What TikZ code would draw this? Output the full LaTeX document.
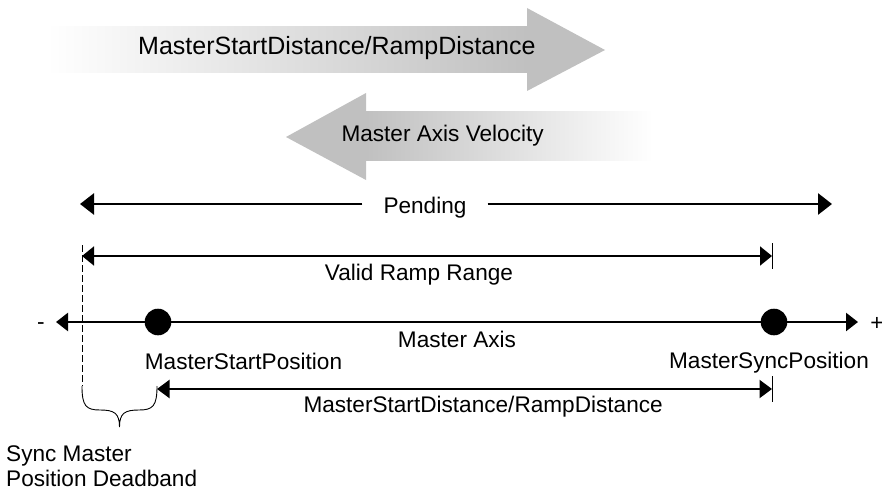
\documentclass[tikz,border=0pt]{standalone}
\usepackage{fontspec}
\setmainfont{Liberation Sans}
\usetikzlibrary{arrows.meta}
\definecolor{arrgray}{RGB}{192,192,192}
\begin{document}
\begin{tikzpicture}[x=1pt,y=-1pt,
  lbl/.style={inner sep=0pt, font=\fontsize{22.6}{25}\selectfont},
  biglbl/.style={inner sep=0pt, font=\fontsize{25}{28}\selectfont},
  pendline/.style={line width=2.8pt, -{Triangle[length=14pt,width=21pt]}},
  validline/.style={line width=1.8pt, {Triangle[length=12pt,width=19pt]}-{Triangle[length=12pt,width=19pt]}},
  axisline/.style={line width=2.5pt, {Triangle[length=12pt,width=18pt]}-{Triangle[length=12pt,width=18pt]}},
  distline/.style={line width=2.2pt, {Triangle[length=12.5pt,width=18pt]}-{Triangle[length=12.5pt,width=18pt]}},
  tickline/.style={line width=1pt},
  dashline/.style={line width=1pt, dash pattern=on 7pt off 3pt},
  dot/.style={circle, fill=black, inner sep=0pt, minimum size=26.6pt}
]
\useasboundingbox (0,0) rectangle (882,497);

% big shaded arrows
\shade[left color=white, right color=arrgray] (47,27) rectangle (527,73);
\fill[arrgray] (527,8) -- (605,50) -- (527,91) -- cycle;
\node[biglbl, anchor=base west] (topdist) at (138,55) {MasterStartDistance/RampDistance};

\fill[arrgray] (366,93) -- (286,137) -- (366,180) -- cycle;
\shade[left color=arrgray, right color=white] (366,112) rectangle (653,161);
\node[lbl, anchor=base west] (vel) at (341.3,142) {Master Axis Velocity};

% Pending
\coordinate (pendL) at (80,204);
\coordinate (pendR) at (832,204);
\node[lbl, anchor=base, inner xsep=21pt] (pend) at (425,213.3) {Pending};
\draw[pendline] (pend.west |- pendL) -- (pendL);
\draw[pendline] (pend.east |- pendR) -- (pendR);

% Valid ramp range
\coordinate (vrL) at (82,256);
\coordinate (vrR) at (772,256);
\draw[validline] (vrL) -- (vrR);
\draw[tickline] (vrR) ++(0,-13) -- ++(0,26);
\node[lbl, anchor=base] (valid) at (419,280.7) {Valid Ramp Range};

% dashed deadband line
\coordinate (dtop) at (82,245);
\coordinate (dbot) at (82,386);
\draw[dashline] (dtop) -- (dbot);

% master axis
\coordinate (axL) at (56,322);
\coordinate (axR) at (858,322);
\draw[axisline] (axL) -- (axR);
\node[dot] (mstart) at (158,322) {};
\node[dot] (msync) at (774,322) {};
\node[lbl, anchor=base] (minus) at (41,329) {-};
\node[lbl, anchor=base] (plus) at (877,330) {+};
\node[lbl, anchor=base] (axis) at (457,347.3) {Master Axis};
\node[lbl, anchor=base] (startpos) at (243.5,369) {MasterStartPosition};
\node[lbl, anchor=base] (syncpos) at (769,368.3) {MasterSyncPosition};

% lower distance arrow
\coordinate (ldL) at (157,389);
\coordinate (ldR) at (772,389);
\draw[distline] (ldL) -- (ldR);
\draw[tickline] (ldR) ++(0,-13) -- ++(0,26);
\node[lbl, anchor=base west] (lowdist) at (303.3,412.7) {MasterStartDistance/RampDistance};

% brace
\coordinate (bl) at (82,386);
\coordinate (br) at (157,386);
\coordinate (btip) at (119.5,427);
\draw[line width=0.9pt] (bl) .. controls (82,406) and (86,410) .. (100,410)
  .. controls (114,410) and (119.5,413) .. (btip)
  .. controls (119.5,413) and (125,410) .. (139,410)
  .. controls (153,410) and (157,406) .. (br);

\node[lbl, anchor=base west, align=left] (deadband) at (6,486.7) {Sync Master\\Position Deadband};
\end{tikzpicture}
\end{document}
